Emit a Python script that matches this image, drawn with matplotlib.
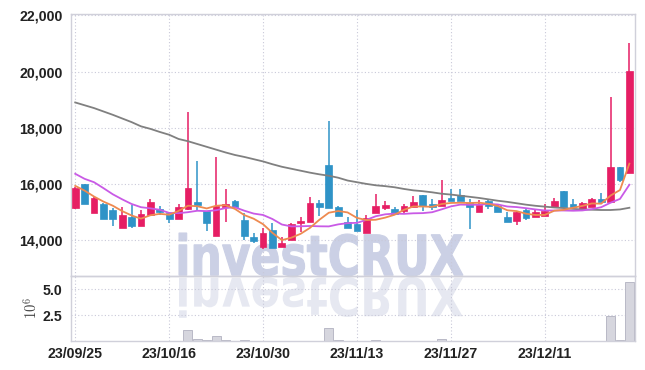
import numpy as np
import pandas as pd
import matplotlib
matplotlib.use('Agg')
import matplotlib.pyplot as plt
from matplotlib.textpath import TextPath
from matplotlib.patches import PathPatch
from matplotlib.font_manager import FontProperties
from matplotlib.transforms import Affine2D

# trading days (KRX holidays removed)
holidays = ['2023-09-28', '2023-09-29', '2023-10-02', '2023-10-03', '2023-10-09']
dates = [d for d in pd.bdate_range('2023-09-25', '2023-12-22') if d.strftime('%Y-%m-%d') not in holidays]

opens = [15130, 16000, 14975, 15275, 15070, 14420, 14830, 14510, 14890, 15120,
         14955, 14740, 15100, 15360, 15035, 14155, 15190, 15400, 14715, 14095,
         13760, 14357, 13740, 14000, 14600, 14630, 15310, 16680, 15165, 14655,
         14570, 14240, 14975, 15155, 15105, 15035, 15165, 15605, 15285, 15215,
         15510, 15605, 15330, 15010, 15390, 15215, 14830, 14680, 15070, 14830,
         14870, 15190, 15750, 15285, 15105, 15165, 15465, 15365, 16615, 16400]
highs = [15880, 16000, 15570, 15330, 15150, 15170, 15250, 15070, 15450, 15210,
         14990, 15285, 18560, 16820, 15035, 16975, 15810, 15430, 14950, 14240,
         14420, 14600, 14120, 14590, 14810, 15525, 15430, 18225, 15215, 14830,
         15070, 14890, 15630, 15400, 15190, 15285, 15580, 15605, 15465, 16140,
         15810, 15810, 15450, 15430, 15455, 15290, 15010, 15010, 15130, 15095,
         15285, 15490, 15750, 15465, 15345, 15510, 15690, 19085, 16615, 21010]
lows = [15120, 15270, 14975, 14740, 14510, 14420, 14420, 14510, 14890, 14890,
        14620, 14740, 15070, 15070, 14330, 14155, 14650, 15190, 14000, 13880,
        13680, 13725, 13740, 14000, 14300, 14630, 14860, 15155, 14870, 14420,
        14335, 14240, 14975, 15070, 14890, 14975, 15165, 15045, 15070, 15215,
        15405, 15400, 14380, 15010, 15120, 14990, 14655, 14535, 14715, 14830,
        14870, 15190, 15165, 15165, 15105, 15165, 15355, 15365, 16080, 16400]
closes = [15850, 15275, 15490, 14740, 14760, 14890, 14500, 14920, 15345, 15010,
          14740, 15170, 15850, 15250, 14620, 15215, 15275, 15190, 14145, 13975,
          14240, 13725, 13905, 14570, 14670, 15310, 15165, 15155, 14870, 14420,
          14335, 14775, 15215, 15250, 14930, 15215, 15365, 15215, 15190, 15430,
          15405, 15405, 15165, 15250, 15225, 15010, 14655, 15010, 14795, 14990,
          15035, 15390, 15165, 15165, 15330, 15465, 15355, 16615, 16140, 20035]
volumes = [15000, 15000, 15000, 15000, 15000, 15000, 15000, 15000, 15000, 15000,
           15000, 15000, 1100000, 230000, 70000, 460000, 100000, 15000, 70000, 15000,
           15000, 15000, 15000, 15000, 15000, 15000, 15000, 1300000, 70000, 15000,
           15000, 15000, 70000, 15000, 15000, 15000, 15000, 15000, 15000, 170000,
           15000, 15000, 15000, 15000, 15000, 15000, 15000, 15000, 15000, 15000,
           15000, 15000, 15000, 15000, 15000, 15000, 15000, 2400000, 70000, 5680000]

# moving averages before the window have history we don't see ->
ma5_head = [15930, 15760, 15550, 15370]
ma10_head = [16360, 16180, 16060, 15850, 15630, 15450, 15285, 15170, 15130]
ma60 = [18900, 18800, 18700, 18580, 18460, 18330, 18200, 18050, 17960, 17850,
        17750, 17600, 17520, 17420, 17320, 17220, 17120, 17030, 16960, 16880,
        16800, 16700, 16610, 16540, 16470, 16400, 16340, 16290, 16220, 16120,
        16060, 16000, 15950, 15920, 15880, 15820, 15770, 15740, 15700, 15650,
        15620, 15580, 15540, 15500, 15450, 15400, 15360, 15310, 15260, 15220,
        15190, 15160, 15140, 15110, 15090, 15080, 15070, 15070, 15090, 15150]

tick_labels = ['23/09/25', '23/10/16', '23/10/30', '23/11/13', '23/11/27', '23/12/11']

df = pd.DataFrame({'open': opens, 'high': highs, 'low': lows, 'close': closes,
                   'volume': volumes}, index=pd.DatetimeIndex(dates))
df['ma5'] = df['close'].rolling(5).mean()
df['ma10'] = df['close'].rolling(10).mean()
df.iloc[:len(ma5_head), df.columns.get_loc('ma5')] = ma5_head
df.iloc[:len(ma10_head), df.columns.get_loc('ma10')] = ma10_head
df['ma60'] = ma60

UP = '#e61e64'
DOWN = '#2f93c7'
GRID = '#c9c9d9'
SPINE = '#d0d0da'
TXT = '#222222'
lab_font = ['Liberation Sans', 'DejaVu Sans']
LAB_SIZE = 10.2

fig = plt.figure(figsize=(6.45, 3.70), dpi=100)
ax = fig.add_axes([71/645, 1-276/370, 564/645, 262/370])
axv = fig.add_axes([71/645, 1-341/370, 564/645, 65/370], sharex=ax)
for a in (ax, axv):
    a.set_facecolor('none')
    for s in a.spines.values():
        s.set_color(SPINE)
        s.set_linewidth(1)
    a.grid(True, color=GRID, linestyle=(0, (1, 2)), linewidth=0.8)
    a.set_axisbelow(True)
    a.tick_params(length=0, colors=TXT)

x = np.arange(len(df))
up = df['close'] >= df['open']
colors = np.where(up, UP, DOWN)

# candles
ax.vlines(x, df['low'], df['high'], colors=colors, linewidth=1.1, zorder=2)
body_lo = np.minimum(df['open'], df['close'])
body_h = np.maximum(np.abs(df['close'] - df['open']), 25)
ax.bar(x, body_h, bottom=body_lo, width=0.72, color=colors, edgecolor=colors,
       linewidth=0.5, zorder=3)

ax.plot(x, df['ma60'], color='#808080', linewidth=1.3, zorder=4)
ax.plot(x, df['ma10'], color='#c95ae6', linewidth=1.3, zorder=4)
ax.plot(x, df['ma5'], color='#ee8a50', linewidth=1.3, zorder=5)

ax.set_ylim(12720, 22050)
ax.set_yticks([14000, 16000, 18000, 20000, 22000])
ax.set_yticklabels(['{:,}'.format(v) for v in [14000, 16000, 18000, 20000, 22000]],
                   family=lab_font, fontsize=LAB_SIZE, fontweight='bold')
ax.tick_params(axis='y', pad=6)
ax.tick_params(axis='x', labelbottom=False)

# volume
axv.bar(x, df['volume'] / 1e6, width=0.95, color='#d6d6de', edgecolor='#b9b9c6',
        linewidth=0.7, zorder=2)
axv.set_ylim(0, 6.3)
axv.set_yticks([2.5, 5.0])
axv.set_yticklabels(['2.5', '5.0'], family=lab_font, fontsize=LAB_SIZE, fontweight='bold')
axv.tick_params(axis='y', pad=6)
axv.set_ylabel('$10^{6}$', fontsize=10.5, color='#444444', labelpad=2,
               math_fontfamily='cm')

labels_idx = [list(df.index.strftime('%y/%m/%d')).index(t) for t in tick_labels]
axv.set_xticks(labels_idx)
axv.set_xticklabels(tick_labels, family=lab_font, fontsize=LAB_SIZE, fontweight='bold')
axv.tick_params(axis='x', pad=4)
axv.set_xlim(-0.45, 59.6)

# watermark + reflection
fp = FontProperties(family='DejaVu Sans', weight='bold')
tp = TextPath((0, 0), 'investCRUX', size=100, prop=fp)
bb = tp.get_extents()
W, H = 645, 370
x0, x1 = 179/W, 463/W
base = 1 - 276/H
top = 1 - 233/H
sx = (x1 - x0) / bb.width
sy = (top - base) / bb.height
tr = Affine2D().translate(-bb.x0, -bb.y0).scale(sx, sy).translate(x0, base) + fig.transFigure
fig.add_artist(PathPatch(tp, transform=tr, facecolor='#cbd0e5', edgecolor='#cbd0e5',
                         linewidth=0.8, zorder=-2))
tr2 = Affine2D().translate(-bb.x0, -bb.y0).scale(sx, -sy * 0.95).translate(x0, base - 1/H) + fig.transFigure
fig.add_artist(PathPatch(tp, transform=tr2, facecolor='#e6e8f1', edgecolor='none', zorder=-2))

fig.savefig('out.png', dpi=100, facecolor='white')
